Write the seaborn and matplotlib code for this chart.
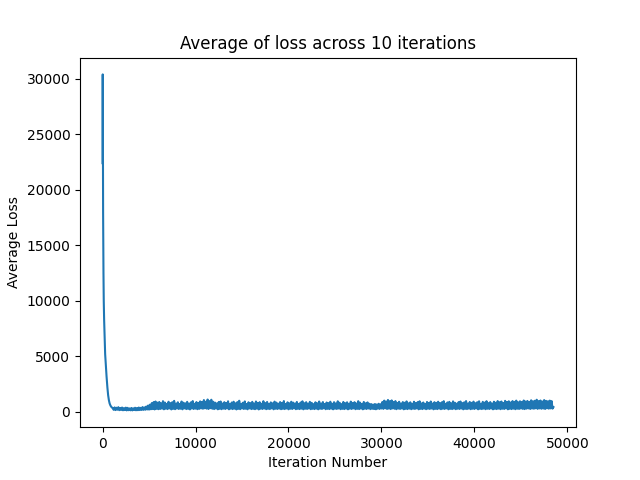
import numpy as np
import pandas as pd
import matplotlib
matplotlib.use('Agg')
import matplotlib.pyplot as plt
import seaborn as sns

# steep drop at the start of training
early_iters = [0, 10, 20, 30, 45, 60, 80, 100, 130, 170, 220, 280, 350, 430,
               520, 600, 680, 760, 850, 940, 1050]
early_loss = [22400, 28600, 30400, 26500, 22000, 18000, 14800, 12500, 10000,
              8300, 6800, 5200, 4200, 3200, 2200, 1500, 1050, 750, 560, 440, 350]

# noisy plateau, one value every 100 iterations from iteration 1100
band_start = 1100
band_step = 100
band_loss = [
    330, 170, 390, 150, 360, 180, 410, 140, 340, 160,
    380, 130, 320, 150, 370, 120, 350, 140, 300, 130,
    340, 120, 310, 150, 360, 130, 330, 140, 380, 150,
    350, 160, 420, 170, 390, 180, 470, 200, 560, 190,
    640, 220, 780, 240, 870, 210, 920, 260, 820, 230,
    880, 250, 760, 280, 950, 220, 830, 270, 710, 240,
    900, 300, 780, 210, 860, 260, 980, 230, 740, 290,
    850, 250, 700, 270, 920, 220, 810, 300, 760, 240,
    890, 260, 730, 210, 840, 290, 960, 250, 720, 280,
    870, 230, 800, 260, 930, 300, 880, 270, 1050, 310,
    900, 280, 1100, 250, 960, 320, 1080, 270, 900, 240,
    820, 290, 750, 220, 880, 260, 920, 230, 740, 280,
    860, 250, 790, 300, 940, 220, 710, 270, 830, 240,
    900, 280, 760, 210, 870, 260, 990, 230, 720, 290,
    810, 250, 930, 270, 700, 220, 850, 300, 780, 240,
    890, 260, 740, 230, 920, 280, 800, 210, 860, 270,
    720, 250, 950, 290, 780, 230, 880, 260, 710, 240,
    840, 300, 760, 220, 910, 270, 820, 250, 730, 280,
    870, 230, 790, 260, 960, 240, 700, 290, 850, 220,
    760, 270, 900, 250, 820, 300, 740, 230, 880, 260,
    710, 240, 830, 280, 940, 220, 770, 270, 860, 250,
    730, 290, 890, 230, 800, 260, 690, 240, 850, 280,
    760, 220, 920, 270, 740, 250, 870, 300, 700, 230,
    830, 260, 780, 240, 900, 280, 720, 220, 860, 270,
    750, 250, 940, 290, 810, 230, 690, 260, 880, 240,
    770, 280, 850, 220, 720, 270, 910, 250, 790, 300,
    860, 230, 740, 260, 950, 240, 820, 280, 700, 220,
    880, 270, 760, 250, 840, 290, 720, 230, 690, 260,
    650, 240, 700, 220, 660, 270, 720, 250, 680, 290,
    880, 260, 1000, 310, 920, 250, 1060, 280, 950, 240,
    1020, 300, 880, 270, 960, 230, 790, 280, 900, 250,
    740, 290, 870, 220, 810, 260, 930, 240, 760, 280,
    850, 230, 720, 270, 900, 250, 780, 300, 870, 220,
    940, 260, 750, 240, 830, 280, 710, 230, 880, 270,
    790, 250, 920, 290, 740, 220, 860, 260, 800, 240,
    900, 280, 770, 230, 850, 270, 950, 250, 720, 300,
    840, 220, 890, 260, 760, 240, 930, 280, 810, 230,
    730, 270, 870, 250, 920, 290, 780, 220, 850, 260,
    960, 240, 740, 280, 880, 230, 800, 270, 910, 250,
    770, 300, 860, 220, 940, 260, 720, 240, 890, 280,
    820, 230, 950, 270, 780, 250, 870, 290, 740, 220,
    900, 260, 810, 240, 960, 280, 860, 230, 920, 270,
    790, 250, 980, 300, 870, 220, 940, 260, 830, 240,
    960, 280, 890, 230, 1000, 270, 850, 250, 940, 290,
    880, 260, 1010, 240, 920, 280, 970, 300, 890, 250,
    1030, 290, 940, 270, 990, 310, 1080, 260, 960, 300,
    1010, 270, 920, 290, 1050, 250, 980, 310, 940, 280,
    1000, 300, 960, 280, 420,
]

band_iters = band_start + band_step * np.arange(len(band_loss))

df = pd.DataFrame({
    'iteration': np.concatenate([early_iters, band_iters]),
    'loss': np.concatenate([early_loss, band_loss]),
})

fig, ax = plt.subplots(figsize=(6.4, 4.8), dpi=100)
sns.lineplot(data=df, x='iteration', y='loss', color='#1f77b4', linewidth=1.5, ax=ax)
ax.set_title('Average of loss across 10 iterations')
ax.set_xlabel('Iteration Number')
ax.set_ylabel('Average Loss')

fig.savefig('out.png', dpi=100)
